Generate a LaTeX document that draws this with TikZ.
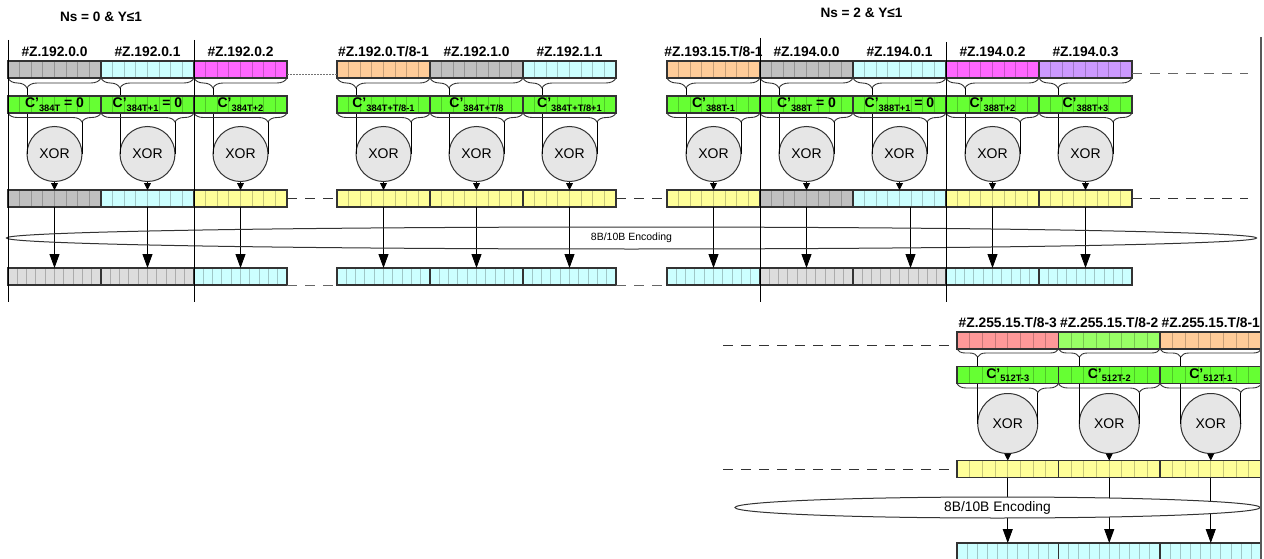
\documentclass[tikz,border=0pt]{standalone}
\usepackage{fontspec}
\setmainfont{Liberation Sans}
\usetikzlibrary{arrows.meta,calc,shapes.geometric,decorations.pathreplacing}
\definecolor{bordc}{HTML}{333333}
\definecolor{cgray}{HTML}{C0C0C0}
\definecolor{clgray}{HTML}{DDDDDD}
\definecolor{ccyan}{HTML}{CCFFFF}
\definecolor{cmag}{HTML}{FF66FF}
\definecolor{cpeach}{HTML}{FFCC99}
\definecolor{clav}{HTML}{CC99FF}
\definecolor{cgreen}{HTML}{66FF33}
\definecolor{cyel}{HTML}{FFFF99}
\definecolor{cpink}{HTML}{FF9999}
\definecolor{clgreen}{HTML}{99FF66}
\definecolor{cxor}{HTML}{E6E6E6}
\newcommand\cpr[2]{C’\raisebox{-3.3pt}{\fontsize{9.3}{10}\selectfont #1}#2}
\tikzset{
  byte/.style={draw=bordc, line width=1.1pt, anchor=north west, minimum width=\gW, minimum height=\gH, inner sep=0pt, outer sep=0pt},
  celldiv/.style={draw=black, draw opacity=0.22, line width=0.9pt},
  cells/.style={path picture={\foreach \k [evaluate=\k as \f using \k/(#1+1)] in {1,...,#1}{\draw[celldiv] ($(path picture bounding box.south west)!\f!(path picture bounding box.south east)$) -- ($(path picture bounding box.north west)!\f!(path picture bounding box.north east)$);}}},
  gbyte/.style={font=\bfseries\fontsize{14}{16}\selectfont, text height=7pt, text depth=0pt},
  xorc/.style={circle, draw=bordc, line width=1pt, fill=cxor, minimum size=2*\gR, inner sep=0pt, outer sep=0pt, font=\fontsize{14}{16}\selectfont},
  brc/.style={draw=bordc, line width=0.9pt, decorate},
  wire/.style={draw=black, line width=0.9pt},
  smallarr/.style={draw=black, line width=0.9pt, -{Triangle[length=7pt,width=7pt]}},
  bigarr/.style={draw=black, line width=0.9pt, -{Triangle[length=14pt,width=10pt]}},
  lab/.style={font=\bfseries\fontsize{13.8}{15}\selectfont, anchor=base, inner sep=0pt},
  ttl/.style={font=\bfseries\fontsize{13.6}{15}\selectfont, anchor=base, inner sep=0pt},
  dashk/.style={draw=black!80, line width=0.9pt, dash pattern=on 10pt off 8pt},
  dashg/.style={draw=black!60, line width=0.9pt, dash pattern=on 10pt off 8pt},
  dotg/.style={draw=black!55, line width=0.9pt, dash pattern=on 1.5pt off 1.5pt},
  vline/.style={draw=black, line width=0.9pt},
  encell/.style={ellipse, draw=bordc, line width=1pt, inner sep=0pt}
}
% #1 id, #2 left x, #3 top fill, #4 label, #5 green text, #6 row2 fill, #7 row3 fill, #8 enc arrow shift
\newcommand\xcol[8]{%
  \node[xorc] (#1c) at (#2+\gW/2,\gCy) {XOR};
  \node[byte, cells=7, fill=#3] (#1a) at (#2,\gYa) {};
  \node[lab] (#1l) at (#2+\gW/2,\gYl) {#4};
  \draw[brc, decoration={brace,mirror,amplitude=\gAa,aspect=0.204}] (#1a.south west) -- (#1a.south east);
  \draw[wire] ([yshift=-\gAa]#1c.west |- #1a.south) -- (#1c.west);
  \node[byte, gbyte, cells=7, fill=cgreen] (#1g) at (#2,\gYg) {#5};
  \draw[brc, decoration={brace,mirror,amplitude=\gAb,aspect=0.796}] (#1g.south west) -- (#1g.south east);
  \draw[wire] ([yshift=-\gAb]#1c.east |- #1g.south) -- (#1c.east);
  \node[byte, cells=7, fill=#6] (#1b) at (#2,\gYb) {};
  \draw[smallarr] (#1c.south) -- (#1b.north);
  \node[byte, cells=9, fill=#7] (#1e) at (#2,\gYc) {};
  \draw[bigarr] ([xshift=#8pt]#1b.south) -- ([xshift=#8pt]#1e.north);
}
\begin{document}
\begin{tikzpicture}[x=1pt,y=-1pt]
\useasboundingbox (0,0) rectangle (1264,559);
\fill[white] (0,0) rectangle (1264,559);
\node[ttl] (t1) at (101,21.7) {Ns = 0 \& Y≤1};
\node[ttl] (t2) at (861.5,17.3) {Ns = 2 \& Y≤1};
% ---------- top group geometry
\def\gW{93}\def\gH{17}\def\gYa{61}\def\gYg{96}\def\gYb{190}\def\gYc{268}
\def\gYl{56.7}\def\gCy{154}\def\gR{27.5}\def\gAa{10}\def\gAb{9}
\xcol{L0}{8}{cgray}{\#Z.192.0.0}{\cpr{384T}{ = 0}}{cgray}{clgray}{0}
\xcol{L1}{101}{ccyan}{\#Z.192.0.1}{\cpr{384T+1}{ = 0}}{ccyan}{clgray}{0}
\xcol{L2}{194}{cmag}{\#Z.192.0.2}{\cpr{384T+2}{}}{cyel}{ccyan}{0}
\xcol{M0}{337}{cpeach}{\#Z.192.0.T/8-1}{\cpr{384T+T/8-1}{}}{cyel}{ccyan}{0}
\xcol{M1}{430}{cgray}{\#Z.192.1.0}{\cpr{384T+T/8}{}}{cyel}{ccyan}{0}
\xcol{M2}{523}{ccyan}{\#Z.192.1.1}{\cpr{384T+T/8+1}{}}{cyel}{ccyan}{0}
\xcol{R0}{667}{cpeach}{\#Z.193.15.T/8-1}{\cpr{388T-1}{}}{cyel}{ccyan}{0}
\xcol{R1}{760}{cgray}{\#Z.194.0.0}{\cpr{388T}{ = 0}}{cgray}{clgray}{0}
\xcol{R2}{853}{ccyan}{\#Z.194.0.1}{\cpr{388T+1}{ = 0}}{ccyan}{clgray}{11}
\xcol{R3}{946}{cmag}{\#Z.194.0.2}{\cpr{388T+2}{}}{cyel}{ccyan}{0}
\xcol{R4}{1039}{clav}{\#Z.194.0.3}{\cpr{388T+3}{}}{cyel}{ccyan}{0}
\node[encell, minimum width=1250, minimum height=22, font=\fontsize{10.5}{12}\selectfont] (enc1) at (631.5,238) {8B/10B Encoding};
% connectors between groups (top)
\coordinate (e1) at (1248,73);
\coordinate (e2) at (1248,198.5);
\draw[dotg] ([yshift=-4.5]L2a.east) -- ([yshift=-4.5]M0a.west);
\draw[dashg] ([yshift=-3.5]R4a.east) -- (e1);
\draw[dashk] (L2b.east) -- (M0b.west);
\draw[dashk] (M2b.east) -- (R0b.west);
\draw[dashk] (R4b.east) -- (e2);
\draw[dashg] (L2e.south east) -- (M0e.south west);
\draw[dashg] (M2e.south east) -- (R0e.south west);
% vertical separators
\draw[vline] (8,40) -- (8,302);
\draw[vline] (194,40) -- (194,302);
\draw[vline] (760,38) -- (760,302);
\draw[vline] (946,42) -- (946,302);
% ---------- bottom group geometry
\def\gW{101.5}\def\gH{17}\def\gYa{332}\def\gYg{366.5}\def\gYb{460.5}\def\gYc{543}
\def\gYl{327.5}\def\gCy{423.5}\def\gR{30}\def\gAa{8}\def\gAb{9}
\xcol{B0}{957}{cpink}{\#Z.255.15.T/8-3}{\cpr{512T-3}{}}{cyel}{ccyan}{0}
\xcol{B1}{1058.5}{clgreen}{\#Z.255.15.T/8-2}{\cpr{512T-2}{}}{cyel}{ccyan}{0}
\xcol{B2}{1160}{cpeach}{\#Z.255.15.T/8-1}{\cpr{512T-1}{}}{cyel}{ccyan}{0}
\node[encell, fill=white, minimum width=525, minimum height=21, font=\fontsize{13.8}{15}\selectfont] (enc2) at (997.5,507.5) {8B/10B Encoding};
\coordinate (s1) at (723,345);
\coordinate (s2) at (723,469);
\draw[dashk] (s1) -- ([yshift=-4.5]B0a.west);
\draw[dashk] (s2) -- (B0b.west);
\draw[draw=black!65, line width=2pt] (1261,37) -- (1261,559);
\end{tikzpicture}
\end{document}
